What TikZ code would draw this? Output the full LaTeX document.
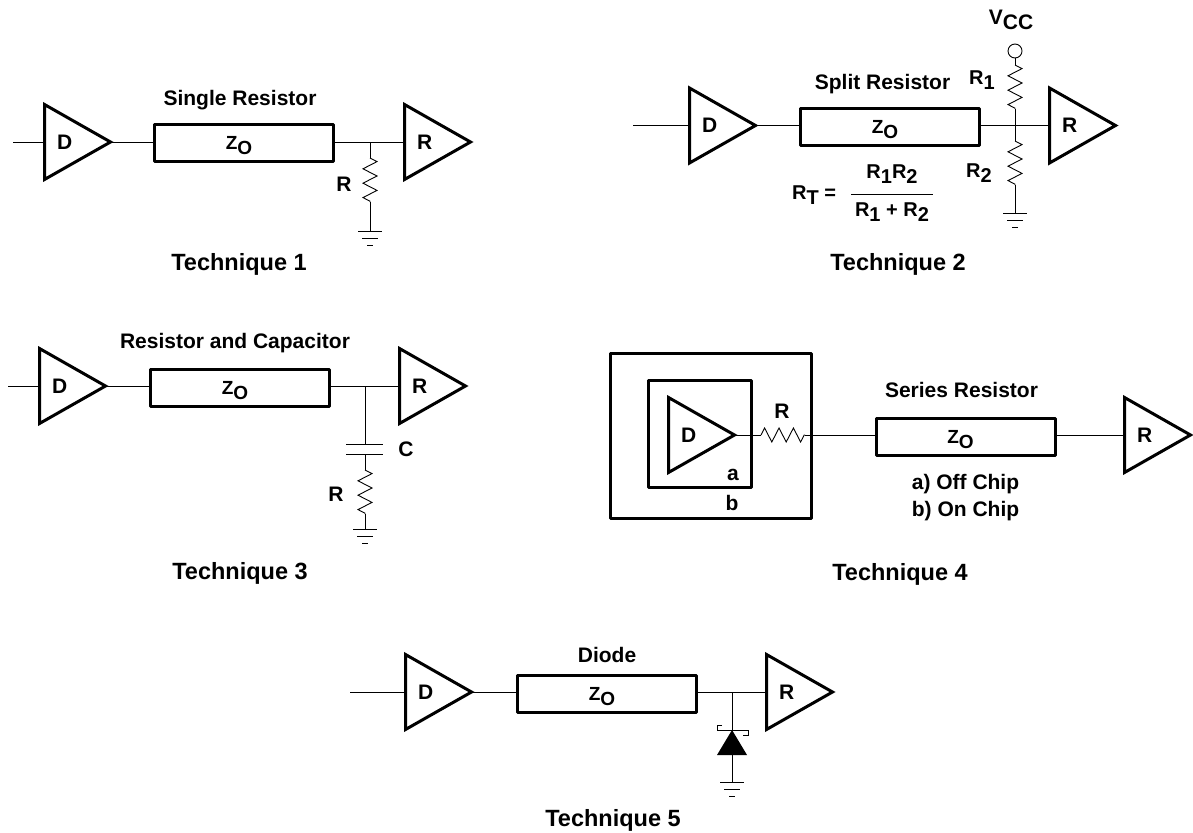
\documentclass[tikz,border=0pt]{standalone}
\usepackage{fontspec}
\setmainfont{Liberation Sans}
\usetikzlibrary{shapes.geometric,decorations.pathmorphing}
\newcommand{\lowtxt}[2]{#1\raisebox{-5pt}{#2}}
\newcommand{\zoval}{\lowtxt{Z}{O}\kern 10pt}
\tikzset{
  buffer/.style  = {shape=isosceles triangle, isosceles triangle stretches,
                    draw, line width=3pt, line join=miter, inner sep=0pt, outer sep=0pt,
                    minimum width=75pt, minimum height=66pt, anchor=lower side, xshift=1.5pt,
                    text depth=0pt, font=\fontsize{21}{23}\bfseries},
  lineblock/.style = {shape=rectangle, draw, line width=3pt, line join=round,
                    minimum width=179pt, minimum height=37pt, inner sep=0pt,
                    text depth=0pt, font=\fontsize{19}{21}\bfseries},
  chipbox/.style = {shape=rectangle, draw, line width=3pt, line join=round, inner sep=0pt},
  lab/.style     = {font=\fontsize{21}{23}\bfseries, inner sep=0pt, text depth=0pt},
  sublab/.style  = {font=\fontsize{20}{22}\bfseries, inner sep=0pt, text depth=0pt},
  title/.style   = {font=\fontsize{23.5}{26}\bfseries, inner sep=0pt, text depth=0pt},
  wire/.style    = {line width=0.9pt},
  resistor/.style = {wire, decorate, decoration={zigzag, amplitude=7pt, segment length=14.4pt}},
  gnd/.pic = {
    \draw[wire] (-12,0) -- (12,0);
    \draw[wire] (-8,7) -- (8,7);
    \draw[wire] (-3,14) -- (3,14);
  }
}

\begin{document}
\begin{tikzpicture}[x=1pt,y=-1pt]
  \useasboundingbox (0,0) rectangle (1193,832);

  % Technique 1
  \coordinate (in1) at (13,142);
  \node[buffer] (d1) at (43,142) {D};
  \node[lineblock] (z1) at (244,143) {\zoval};
  \node[buffer] (r1) at (403,142) {R};
  \coordinate (j1) at (370,142);
  \coordinate (ra1) at (370,158);
  \coordinate (rb1) at (370,202);
  \coordinate (g1) at (370,231);
  \draw[wire] (in1) -- (d1.lower side);
  \draw[wire] (d1.apex) -- (z1.west |- d1.apex);
  \draw[wire] (z1.east |- r1.lower side) -- (r1.lower side);
  \draw[wire] (j1) -- (ra1);
  \draw[resistor] (ra1) -- (rb1);
  \draw[wire] (rb1) -- (g1);
  \pic at (g1) {gnd};
  \node[lab] (t1) at (240,98) {Single Resistor};
  \node[lab] (rl1) at (344,184) {R};
  \node[title] (n1) at (239,262) {Technique 1};

  % Technique 2
  \coordinate (in2) at (633,125.5);
  \node[buffer] (d2) at (688,125.5) {D};
  \node[lineblock] (z2) at (890,127) {\zoval};
  \node[buffer] (r2) at (1048,125.5) {R};
  \node[circle, draw, wire, minimum size=14pt, inner sep=0pt] (vcc) at (1015,51) {};
  \coordinate (j2) at (1015,125.5);
  \coordinate (ra2) at (1015,65);
  \coordinate (rb2) at (1015,109);
  \coordinate (rc2) at (1015,141);
  \coordinate (rd2) at (1015,185);
  \coordinate (g2) at (1015,213);
  \coordinate (fa) at (851,194);
  \coordinate (fb) at (933,194);
  \draw[wire] (in2) -- (d2.lower side);
  \draw[wire] (d2.apex) -- (z2.west |- d2.apex);
  \draw[wire] (z2.east |- r2.lower side) -- (r2.lower side);
  \draw[wire] (vcc.south) -- (ra2);
  \draw[resistor] (ra2) -- (rb2);
  \draw[wire] (rb2) -- (rc2);
  \draw[resistor] (rc2) -- (rd2);
  \draw[wire] (rd2) -- (g2);
  \pic at (g2) {gnd};
  \draw[wire] (fa) -- (fb);
  \node[lab] (t2) at (882.5,82) {Split Resistor};
  \node[lab] (vl) at (1011,17) {\lowtxt{V}{CC}};
  \node[sublab] (rl2) at (982,78) {\lowtxt{R}{1}};
  \node[sublab] (rl3) at (979,171) {\lowtxt{R}{2}};
  \node[sublab] (rt) at (814,193) {\lowtxt{R}{T} =};
  \node[sublab] (num) at (892,172) {\lowtxt{R}{1}\lowtxt{R}{2}};
  \node[sublab] (den) at (892,210) {\lowtxt{R}{1} + \lowtxt{R}{2}};
  \node[title] (n2) at (898,262) {Technique 2};

  % Technique 3
  \coordinate (in3) at (8,386);
  \node[buffer] (d3) at (38,386) {D};
  \node[lineblock] (z3) at (240,387.5) {\zoval};
  \node[buffer] (r3) at (398,386) {R};
  \coordinate (j3) at (365,386);
  \coordinate (ca3) at (365,444);
  \coordinate (cb3) at (365,454);
  \coordinate (ra3) at (365,470);
  \coordinate (rb3) at (365,514);
  \coordinate (g3) at (365,529);
  \draw[wire] (in3) -- (d3.lower side);
  \draw[wire] (d3.apex) -- (z3.west |- d3.apex);
  \draw[wire] (z3.east |- r3.lower side) -- (r3.lower side);
  \draw[wire] (j3) -- (ca3);
  \draw[wire] ([xshift=-19pt]ca3) -- ([xshift=18pt]ca3);
  \draw[wire] ([xshift=-19pt]cb3) -- ([xshift=18pt]cb3);
  \draw[wire] (cb3) -- (ra3);
  \draw[resistor] (ra3) -- (rb3);
  \draw[wire] (rb3) -- (g3);
  \pic at (g3) {gnd};
  \node[lab] (t3) at (235,341) {Resistor and Capacitor};
  \node[lab] (cl) at (406,449) {C};
  \node[lab] (rl4) at (336,494) {R};
  \node[title] (n3) at (240,571) {Technique 3};

  % Technique 4
  \node[chipbox, minimum width=201pt, minimum height=165pt] (chipb) at (711,436) {};
  \node[chipbox, minimum width=103pt, minimum height=107pt] (chipa) at (700,434) {};
  \node[buffer] (d4) at (667,435) {D};
  \node[lineblock] (z4) at (965.5,436.5) {\zoval};
  \node[buffer] (r4) at (1123,435) {R};
  \coordinate (ra4) at (761,435);
  \coordinate (rb4) at (805,435);
  \draw[wire] (d4.apex) -- (ra4);
  \draw[resistor] (ra4) -- (rb4);
  \draw[wire] (rb4) -- (z4.west |- rb4);
  \draw[wire] (z4.east |- r4.lower side) -- (r4.lower side);
  \node[lab] (rl5) at (782,411) {R};
  \node[lab] (al) at (733,475) {a};
  \node[lab] (bl) at (732,503) {b};
  \node[lab] (t4) at (961.5,390) {Series Resistor};
  \node[lab] (oc1) at (965.5,482) {a) Off Chip};
  \node[lab] (oc2) at (965.5,509) {b) On Chip};
  \node[title] (n4) at (900,572) {Technique 4};

  % Technique 5
  \coordinate (in5) at (350,692);
  \node[buffer] (d5) at (404,692) {D};
  \node[lineblock] (z5) at (607,693.5) {\zoval};
  \node[buffer] (r5) at (765,692) {R};
  \coordinate (j5) at (732,692);
  \coordinate (da5) at (732,730);
  \coordinate (db5) at (732,755);
  \coordinate (g5) at (732,782);
  \draw[wire] (in5) -- (d5.lower side);
  \draw[wire] (d5.apex) -- (z5.west |- d5.apex);
  \draw[wire] (z5.east |- r5.lower side) -- (r5.lower side);
  \draw[wire] (j5) -- (da5);
  \draw[wire] (722,725) -- (717,725) -- (717,730) -- (748,730) -- (748,735) -- (743,735);
  \fill (717,755) -- (747,755) -- (da5) -- cycle;
  \draw[wire] (db5) -- (g5);
  \pic at (g5) {gnd};
  \node[lab] (t5) at (607,655) {Diode};
  \node[title] (n5) at (613,818) {Technique 5};
\end{tikzpicture}
\end{document}
